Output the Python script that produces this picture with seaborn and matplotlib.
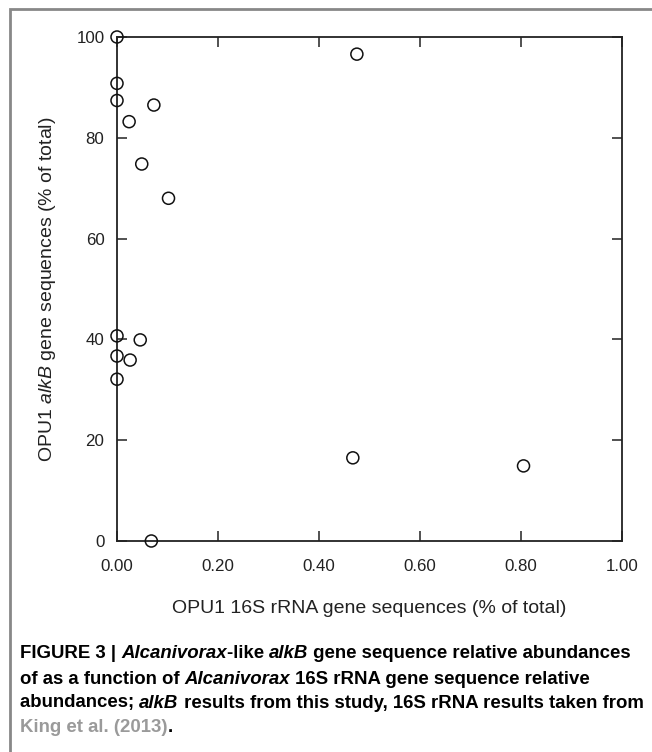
import pandas as pd
import seaborn as sns
import matplotlib.pyplot as plt
from matplotlib.patches import Rectangle

# values
x_16s = [0.0, 0.0, 0.0, 0.073, 0.024, 0.049, 0.102, 0.475,
         0.0, 0.046, 0.0, 0.026, 0.0, 0.068, 0.467, 0.805]
y_alkb = [100.0, 90.8, 87.4, 86.5, 83.2, 74.8, 68.0, 96.6,
          40.7, 39.9, 36.7, 35.9, 32.1, 0.0, 16.5, 14.9]
x_ticks = [0.0, 0.2, 0.4, 0.6, 0.8, 1.0]
y_ticks = [0, 20, 40, 60, 80, 100]

data = pd.DataFrame({"x": x_16s, "y": y_alkb})

sns.set_style("ticks")
plt.rcParams['font.family'] = ['Liberation Sans', 'DejaVu Sans']
plt.rcParams['mathtext.fontset'] = 'custom'
plt.rcParams['mathtext.rm'] = 'Liberation Sans'
plt.rcParams['mathtext.it'] = 'Liberation Sans:italic'

fig = plt.figure(figsize=(6.52, 7.52), dpi=100)
ax = fig.add_axes([117 / 652, 1 - 541 / 752, 505 / 652, 504 / 752])

sns.scatterplot(data=data, x="x", y="y", ax=ax, s=75, marker="o",
                facecolor="none", edgecolor="#111111", linewidth=1.1,
                clip_on=False, zorder=5)

ax.set_xlim(0, 1)
ax.set_ylim(0, 100)
ax.set_xticks(x_ticks)
ax.set_xticklabels([f"{v:.2f}" for v in x_ticks])
ax.set_yticks(y_ticks)
ax.set_yticklabels([str(v) for v in y_ticks])
ax.tick_params(direction="in", length=7, width=1.1, top=True, right=True,
               labelsize=12.2, colors="#222222")
ax.tick_params(axis="x", pad=13)
ax.tick_params(axis="y", pad=9)
for sp in ax.spines.values():
    sp.set_linewidth(1.3)
    sp.set_color("#222222")

ax.set_xlabel("OPU1 16S rRNA gene sequences (% of total)", fontsize=14,
              color="#222222", labelpad=19)
ax.set_ylabel("OPU1 $\\mathit{alkB}$ gene sequences (% of total)", fontsize=14,
              color="#222222", labelpad=13)

# outer frame of the figure panel
fig.patches.append(Rectangle((10 / 652, -0.05), 1.0, 1 - 9 / 752 + 0.05,
                             transform=fig.transFigure, fill=False,
                             edgecolor="#888888", linewidth=2.0))

# caption, drawn in pieces so bold / italic / colour can change within a line
cap_font = ['Liberation Sans Narrow', 'Liberation Sans', 'DejaVu Sans']
caption = [
    [("FIGURE 3 | ", "normal", "black"), ("Alcanivorax", "italic", "black"),
     ("-like ", "normal", "black"), ("alkB", "italic", "black"),
     (" gene sequence relative abundances", "normal", "black")],
    [("of as a function of ", "normal", "black"), ("Alcanivorax", "italic", "black"),
     (" 16S rRNA gene sequence relative", "normal", "black")],
    [("abundances; ", "normal", "black"), ("alkB", "italic", "black"),
     (" results from this study, 16S rRNA results taken from", "normal", "black")],
    [("King et al. (2013)", "normal", "#9a9a9a"), (".", "normal", "black")],
]
line_y = [654, 679, 703, 727]

fig.canvas.draw()
renderer = fig.canvas.get_renderer()
for segs, yp in zip(caption, line_y):
    xp = 20
    for txt, style, col in segs:
        t = fig.text(xp / 652, 1 - yp / 752, txt, family=cap_font,
                     fontweight="bold", style=style, color=col,
                     fontsize=13.4, va="center", ha="left")
        bb = t.get_window_extent(renderer=renderer)
        xp += bb.width

fig.savefig("out.png", dpi=100)
